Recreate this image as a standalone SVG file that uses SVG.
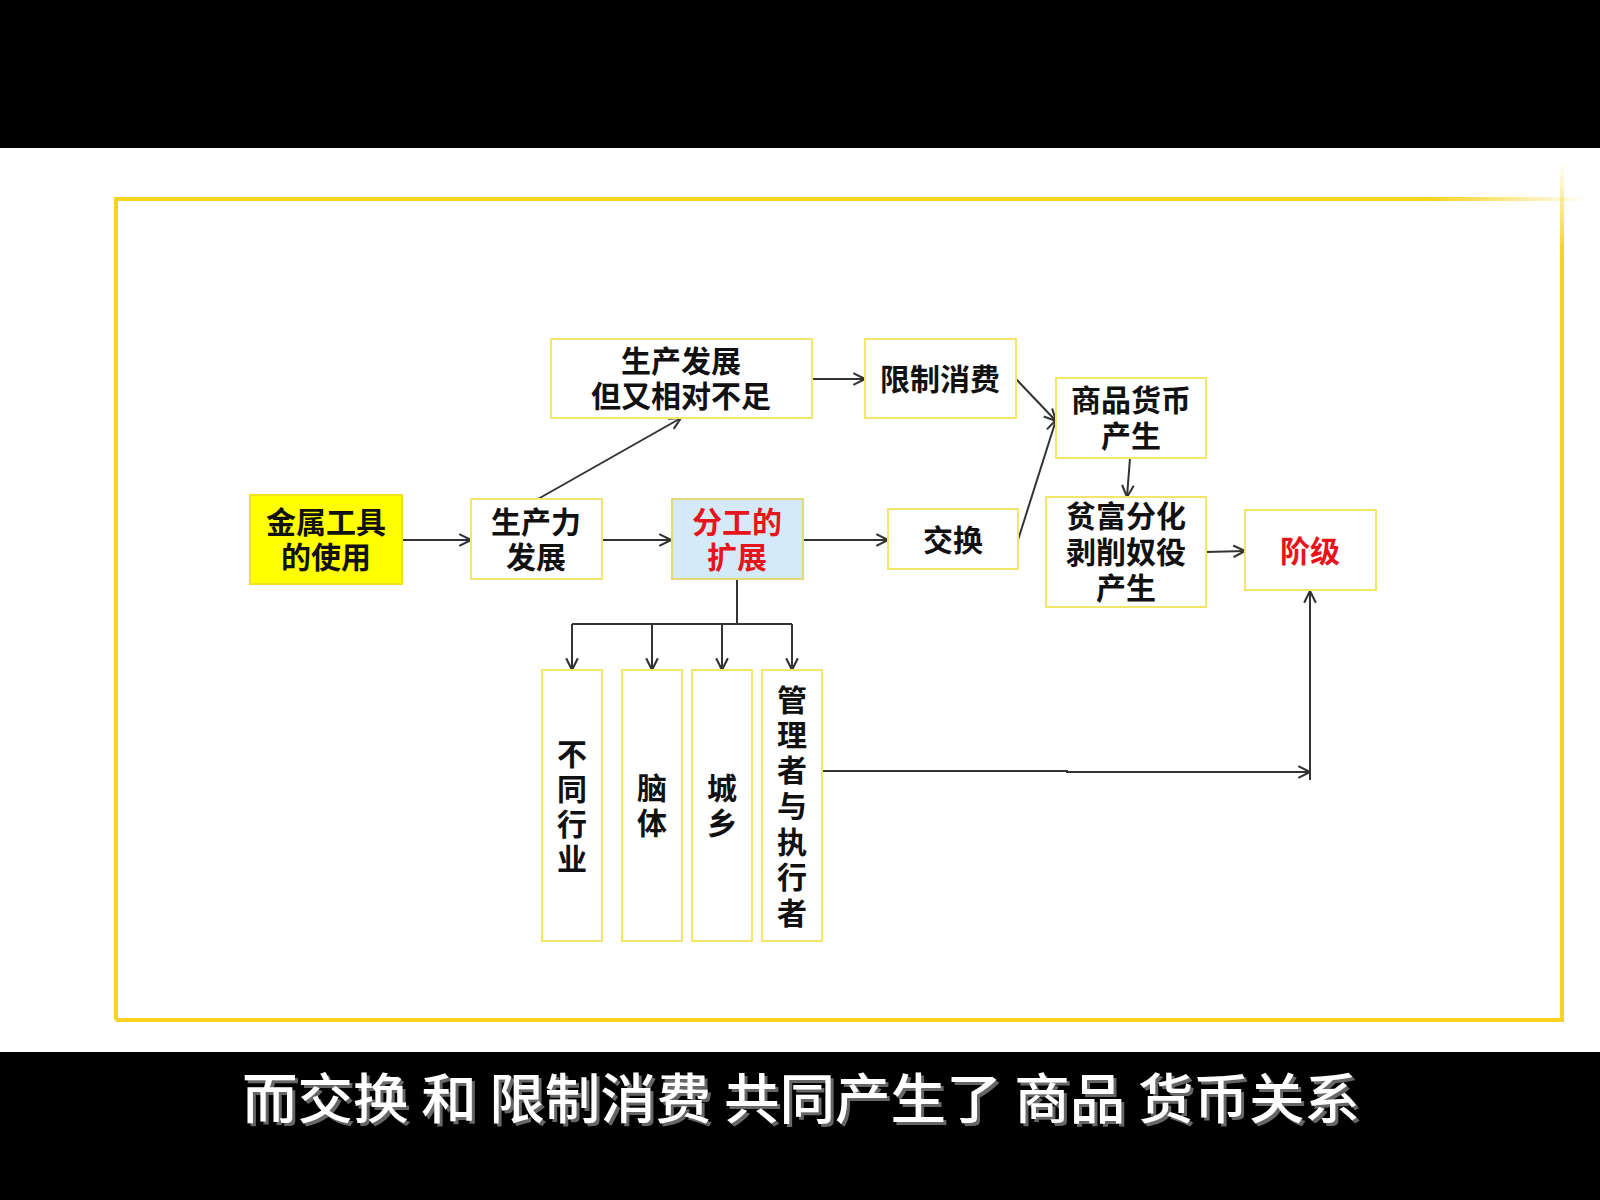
<svg xmlns="http://www.w3.org/2000/svg" width="1600" height="1200" viewBox="0 0 1600 1200">
<defs>
<style>
.box{fill:#fff;stroke:#F3E66A;stroke-width:2}
.t{font-family:"Noto Sans CJK SC","Noto Sans",sans-serif;font-weight:700;font-size:30px;fill:#111;text-anchor:middle;dominant-baseline:central}
.red{fill:#E8141B}
.c{fill:none;stroke:#333;stroke-width:2}
.sub{font-family:"Noto Sans CJK SC","Noto Sans",sans-serif;font-weight:500;font-size:54px;text-anchor:middle;dominant-baseline:central}
</style>
<marker id="ah" viewBox="0 0 12 12" refX="11" refY="6" markerWidth="14" markerHeight="14" markerUnits="userSpaceOnUse" orient="auto">
<path d="M1,1 L11,6 L1,11" fill="none" stroke="#333" stroke-width="1.8"/>
</marker>
<linearGradient id="fadeH" x1="0" y1="0" x2="1" y2="0">
<stop offset="0" stop-color="#F8D21C" stop-opacity="1"/>
<stop offset="1" stop-color="#F8D21C" stop-opacity="0"/>
</linearGradient>
<linearGradient id="fadeV" x1="0" y1="1" x2="0" y2="0">
<stop offset="0" stop-color="#F8D21C" stop-opacity="1"/>
<stop offset="1" stop-color="#F8D21C" stop-opacity="0"/>
</linearGradient>
</defs>
<rect x="0" y="0" width="1600" height="1200" fill="#fff"/>
<rect x="0" y="0" width="1600" height="148" fill="#000"/>
<rect x="0" y="1052" width="1600" height="148" fill="#000"/>
<g id="frame">
<path d="M116,1020 L116,199 L1427,199" fill="none" stroke="#F8D21C" stroke-width="4"/>
<path d="M1562,253 L1562,1020 L116,1020" fill="none" stroke="#F8D21C" stroke-width="4"/>
<rect x="1427" y="197" width="163" height="4" fill="url(#fadeH)"/>
<rect x="1560" y="163" width="4" height="90" fill="url(#fadeV)"/>
</g>
<g id="connectors">
<line class="c" x1="402" y1="540" x2="471" y2="540" marker-end="url(#ah)"/>
<line class="c" x1="602" y1="540" x2="671" y2="540" marker-end="url(#ah)"/>
<line class="c" x1="538" y1="499" x2="681" y2="418" marker-end="url(#ah)"/>
<line class="c" x1="812" y1="379" x2="865" y2="379" marker-end="url(#ah)"/>
<line class="c" x1="803" y1="540" x2="888" y2="540" marker-end="url(#ah)"/>
<line class="c" x1="1016" y1="379" x2="1056" y2="421" marker-end="url(#ah)"/>
<line class="c" x1="1018" y1="540" x2="1056" y2="420" marker-end="url(#ah)"/>
<line class="c" x1="1130" y1="458" x2="1127" y2="497" marker-end="url(#ah)"/>
<line class="c" x1="1206" y1="552" x2="1245" y2="551" marker-end="url(#ah)"/>
<path class="c" d="M737,580 L737,624 M572,624 L792,624"/>
<line class="c" x1="572" y1="624" x2="572" y2="670" marker-end="url(#ah)"/>
<line class="c" x1="652" y1="624" x2="652" y2="670" marker-end="url(#ah)"/>
<line class="c" x1="722" y1="624" x2="722" y2="670" marker-end="url(#ah)"/>
<line class="c" x1="792" y1="624" x2="792" y2="670" marker-end="url(#ah)"/>
<path class="c" d="M822,771 L1067,771 L1067,772 L1310,772" marker-end="url(#ah)"/>
<line class="c" x1="1310" y1="780" x2="1310" y2="591" marker-end="url(#ah)"/>
</g>
<g id="n-jinshu">
<rect x="250" y="495" width="152" height="89" fill="#FFFF00" stroke="#F0E020" stroke-width="2"/>
<text class="t" x="326" y="520">金属工具</text>
<text class="t" x="326" y="555">的使用</text>
</g>
<g id="n-shengchanli">
<rect class="box" x="471" y="499" width="131" height="80"/>
<text class="t" x="536" y="520">生产力</text>
<text class="t" x="536" y="555">发展</text>
</g>
<g id="n-fengong">
<rect x="672" y="499" width="131" height="80" fill="#D4EAF9" stroke="#E6D878" stroke-width="2"/>
<text class="t red" x="737" y="520">分工的</text>
<text class="t red" x="737" y="555">扩展</text>
</g>
<g id="n-shengchanfazhan">
<rect class="box" x="551" y="339" width="261" height="79"/>
<text class="t" x="681" y="359">生产发展</text>
<text class="t" x="681" y="394">但又相对不足</text>
</g>
<g id="n-xianzhi">
<rect class="box" x="865" y="339" width="151" height="79"/>
<text class="t" x="940" y="377">限制消费</text>
</g>
<g id="n-shangpin">
<rect class="box" x="1056" y="378" width="150" height="80"/>
<text class="t" x="1131" y="398">商品货币</text>
<text class="t" x="1131" y="434">产生</text>
</g>
<g id="n-jiaohuan">
<rect class="box" x="888" y="509" width="130" height="60"/>
<text class="t" x="953" y="538">交换</text>
</g>
<g id="n-pinfu">
<rect class="box" x="1046" y="497" width="160" height="110"/>
<text class="t" x="1126" y="514">贫富分化</text>
<text class="t" x="1126" y="550">剥削奴役</text>
<text class="t" x="1126" y="586">产生</text>
</g>
<g id="n-jieji">
<rect class="box" x="1245" y="510" width="131" height="80"/>
<text class="t red" x="1310" y="549">阶级</text>
</g>
<g id="n-butong">
<rect class="box" x="542" y="670" width="60" height="271"/>
<text class="t" x="572" y="752">不</text>
<text class="t" x="572" y="787">同</text>
<text class="t" x="572" y="822">行</text>
<text class="t" x="572" y="857">业</text>
</g>
<g id="n-naoti">
<rect class="box" x="622" y="670" width="60" height="271"/>
<text class="t" x="652" y="786">脑</text>
<text class="t" x="652" y="821">体</text>
</g>
<g id="n-chengxiang">
<rect class="box" x="692" y="670" width="60" height="271"/>
<text class="t" x="722" y="786">城</text>
<text class="t" x="722" y="821">乡</text>
</g>
<g id="n-guanli">
<rect class="box" x="762" y="670" width="60" height="271"/>
<text class="t" x="792" y="698">管</text>
<text class="t" x="792" y="733">理</text>
<text class="t" x="792" y="768">者</text>
<text class="t" x="792" y="804">与</text>
<text class="t" x="792" y="840">执</text>
<text class="t" x="792" y="875">行</text>
<text class="t" x="792" y="911">者</text>
</g>
<g id="subtitle">
<text class="sub" x="804" y="1098" fill="#666" textLength="1118" lengthAdjust="spacingAndGlyphs">而交换 和 限制消费 共同产生了 商品 货币关系</text>
<text class="sub" x="801" y="1095" fill="#fff" textLength="1118" lengthAdjust="spacingAndGlyphs">而交换 和 限制消费 共同产生了 商品 货币关系</text>
</g>
</svg>
